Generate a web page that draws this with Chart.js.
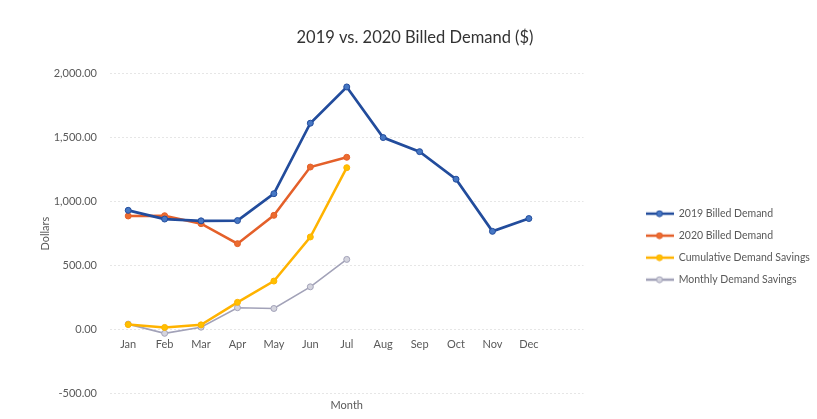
<!DOCTYPE html>
<html>
<head>
<meta charset="utf-8">
<script src="https://cdn.jsdelivr.net/npm/chart.js@4"></script>
<style>
  html, body { margin: 0; padding: 0; background: #fff; }
  #wrap { width: 817px; height: 419px; }
</style>
</head>
<body>
<div id="wrap"><canvas id="myChart" width="817" height="419"></canvas></div>
<script>
// chart data
const months = ['Jan', 'Feb', 'Mar', 'Apr', 'May', 'Jun', 'Jul', 'Aug', 'Sep', 'Oct', 'Nov', 'Dec', ''];
const demand2019 = [932, 864, 850, 852, 1062, 1612, 1895, 1500, 1390, 1175, 768, 868, null];
const demand2020 = [888, 890, 828, 672, 893, 1270, 1346, null, null, null, null, null, null];
const cumulativeSavings = [40, 18, 38, 214, 380, 724, 1265, null, null, null, null, null, null];
const monthlySavings = [44, -28, 20, 172, 166, 335, 549, null, null, null, null, null, null];
const yTicks = [-500, 0, 500, 1000, 1500, 2000];

const FONT = 'Lato, "Open Sans", sans-serif';
const TEXT = '#595959';

// little line-with-marker swatch for the legend, like Excel draws it
const swatch = (line, fill) => {
  const c = document.createElement('canvas');
  c.width = 28; c.height = 8;
  const g = c.getContext('2d');
  g.strokeStyle = line; g.lineWidth = 2.5;
  g.beginPath(); g.moveTo(0, 4); g.lineTo(28, 4); g.stroke();
  g.fillStyle = fill; g.strokeStyle = line; g.lineWidth = 1;
  g.beginPath(); g.arc(14, 4, 3, 0, Math.PI * 2); g.fill(); g.stroke();
  return c;
};

const series = [
  { label: '2019 Billed Demand', data: demand2019, line: '#224c9c', fill: '#4677c4', width: 2.7 },
  { label: '2020 Billed Demand', data: demand2020, line: '#e4602a', fill: '#ec6c30', width: 2.5 },
  { label: 'Cumulative Demand Savings', data: cumulativeSavings, line: '#ffb300', fill: '#ffc000', width: 2.5 },
  { label: 'Monthly Demand Savings', data: monthlySavings, line: '#a2a2b8', fill: '#d4d4de', width: 1.6 }
];

const fmt = v => v.toLocaleString('en-US', { minimumFractionDigits: 2, maximumFractionDigits: 2 });

new Chart(document.getElementById('myChart'), {
  type: 'line',
  data: {
    labels: months,
    datasets: series.map(s => ({
      label: s.label,
      data: s.data,
      borderColor: s.line,
      backgroundColor: s.fill,
      borderWidth: s.width,
      pointRadius: 3,
      pointBorderWidth: 1,
      pointBorderColor: s.line,
      pointBackgroundColor: s.fill,
      pointStyle: 'circle',
      tension: 0,
      spanGaps: false
    }))
  },
  options: {
    responsive: false,
    animation: false,
    layout: { padding: { top: 0, left: 13, right: 0, bottom: 0 } },
    scales: {
      x: {
        type: 'category',
        position: { y: 0 },
        offset: true,
        grid: { display: false, drawTicks: false },
        border: { display: false },
        ticks: { color: TEXT, font: { family: FONT, size: 11 }, padding: 8, maxRotation: 0, autoSkip: false }
      },
      y: {
        min: -500,
        max: 2000,
        afterBuildTicks: s => { s.ticks = yTicks.map(v => ({ value: v })); },
        afterFit: s => { s.width = 97; },
        grid: { color: '#e6e6e6', drawTicks: false },
        border: { display: false, dash: [2, 2] },
        ticks: { color: TEXT, font: { family: FONT, size: 11 }, padding: 13, callback: v => fmt(v) },
        title: { display: true, text: 'Dollars', color: TEXT, font: { family: FONT, size: 11 }, padding: { top: 26, bottom: 0 } }
      },
      spacer: {
        position: 'right',
        display: true,
        grid: { display: false, drawTicks: false },
        border: { display: false },
        ticks: { display: false },
        afterFit: s => { s.width = 50.5; }
      }
    },
    plugins: {
      title: {
        display: true,
        text: '2019 vs. 2020 Billed Demand ($)',
        color: '#333333',
        font: { family: FONT, size: 16.5, weight: 'normal' },
        padding: { top: 28, bottom: 25.7 }
      },
      subtitle: {
        display: true,
        position: 'bottom',
        fullSize: false,
        text: 'Month',
        color: TEXT,
        font: { family: FONT, size: 11 },
        padding: { top: 5, bottom: 7 }
      },
      legend: {
        position: 'right',
        fullSize: false,
        maxWidth: 183,
        title: { display: true, text: ' ', font: { family: FONT, size: 10 }, padding: { top: 14, bottom: 0 } },
        labels: {
          color: TEXT,
          font: { family: FONT, size: 10.5 },
          usePointStyle: true,
          pointStyleWidth: 28,
          boxHeight: 10,
          padding: 11.5,
          generateLabels: chart => series.map((s, i) => ({
            text: s.label,
            pointStyle: swatch(s.line, s.fill),
            fontColor: TEXT,
            lineWidth: 0,
            datasetIndex: i,
            hidden: false
          }))
        }
      },
      tooltip: { enabled: false }
    }
  }
});
</script>
</body>
</html>
